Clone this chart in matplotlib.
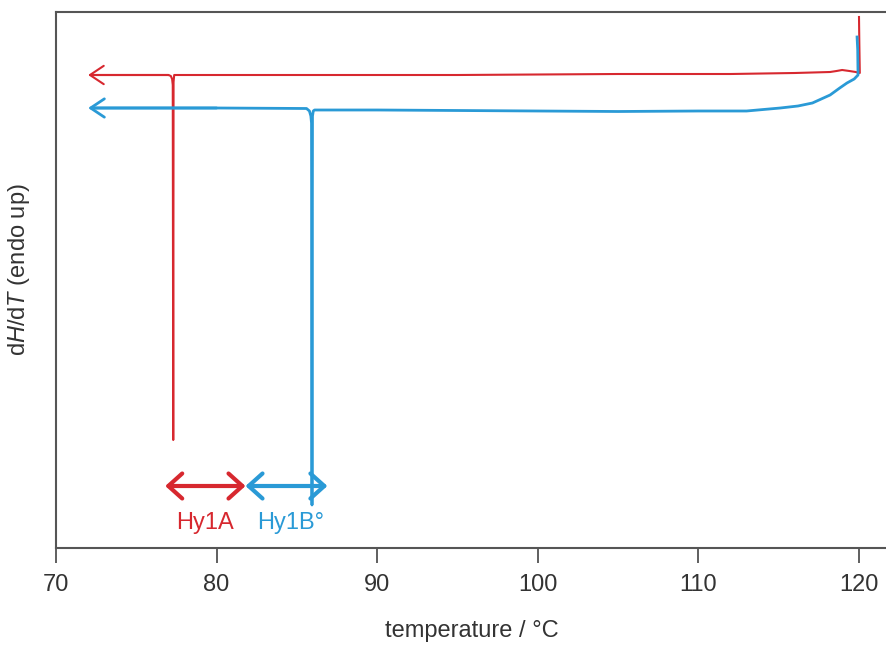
import matplotlib
matplotlib.use('Agg')
import matplotlib.pyplot as plt

# Phông chữ giống Arial
plt.rcParams['font.family'] = ['Liberation Sans', 'DejaVu Sans']
plt.rcParams['mathtext.fontset'] = 'custom'
plt.rcParams['mathtext.rm'] = 'Liberation Sans'
plt.rcParams['mathtext.it'] = 'Liberation Sans:italic'

# Dữ liệu (đơn vị tùy ý, endo up)
x_red = [72.3, 77.0, 77.15, 77.23, 77.27, 77.3, 77.32, 77.36, 85, 95, 105,
         112, 116, 118.2, 118.6, 118.95, 119.4, 119.8, 120.05, 120.02, 120.0]
y_red = [473, 473, 472, 469, 463, 108, 466, 473, 473, 473, 474,
         474, 475, 476, 477, 478, 477, 476, 475, 505, 531]

x_blue = [72.3, 80, 85.6, 85.78, 85.87, 85.91, 85.94, 85.97, 86.02, 86.1,
          90, 95, 100, 105, 110, 113, 115.1, 116.2, 117.1, 118.2, 118.8,
          119.25, 119.7, 119.94, 119.92, 119.88]
y_blue = [440, 440, 439.5, 437, 432, 425, 43, 432, 437, 438,
          438, 437.5, 437, 436.5, 437, 437, 440, 442, 445, 453, 460,
          465, 469, 473, 498, 511]

x_ticks = [70, 80, 90, 100, 110, 120]

# Vùng pha
hy1a = [76.8, 81.8]
hy1b = [81.8, 86.9]

red = '#d7282f'
blue = '#2a9ad6'

fig = plt.figure(figsize=(8.87, 6.46), dpi=100)
ax = fig.add_axes([56 / 887, 98 / 646, 831 / 887, 536 / 646])

ax.plot(x_red, y_red, color=red, lw=1.5)
ax.plot(x_blue, y_blue, color=blue, lw=2)

# Mũi tên chỉ hướng làm lạnh
ax.annotate('', xy=(72.0, y_red[0]), xytext=(x_red[1], y_red[0]),
            arrowprops=dict(arrowstyle='->,head_length=0.45,head_width=0.3',
                            color=red, lw=1.5, mutation_scale=22,
                            shrinkA=0, shrinkB=0))
ax.annotate('', xy=(72.0, y_blue[0]), xytext=(x_blue[1], y_blue[0]),
            arrowprops=dict(arrowstyle='->,head_length=0.45,head_width=0.3',
                            color=blue, lw=2, mutation_scale=22,
                            shrinkA=0, shrinkB=0))

# Mũi tên hai đầu
for (a, b), c in [(hy1a, red), (hy1b, blue)]:
    ax.annotate('', xy=(a, 62), xytext=(b, 62),
                arrowprops=dict(arrowstyle='<->,head_length=0.5,head_width=0.45',
                                color=c, lw=3, mutation_scale=20,
                                shrinkA=0, shrinkB=0))

ax.text(79.3, 25, 'Hy1A', color=red, fontsize=17, ha='center', va='center')
ax.text(84.6, 25, 'Hy1B°', color=blue, fontsize=17, ha='center', va='center')

ax.set_xlim(70, 70 + 831 / 16.06)
ax.set_ylim(0, 536)
ax.set_xticks(x_ticks)
ax.set_yticks([])
ax.tick_params(axis='x', direction='out', length=11, width=1.2,
               color='#444444', labelsize=17, labelcolor='#333333', pad=8)

for s in ['left', 'bottom', 'top']:
    ax.spines[s].set_color('#555555')
    ax.spines[s].set_linewidth(1.5)
ax.spines['right'].set_visible(False)

ax.set_xlabel('temperature / °C', fontsize=17, color='#333333')
ax.xaxis.set_label_coords(0.5, -0.135)
ax.set_ylabel(r'd$\mathit{H}$/d$\mathit{T}$ (endo up)', fontsize=17,
              color='#333333')
ax.yaxis.set_label_coords(-0.029, 0.519)

fig.savefig('out.png', dpi=100)
